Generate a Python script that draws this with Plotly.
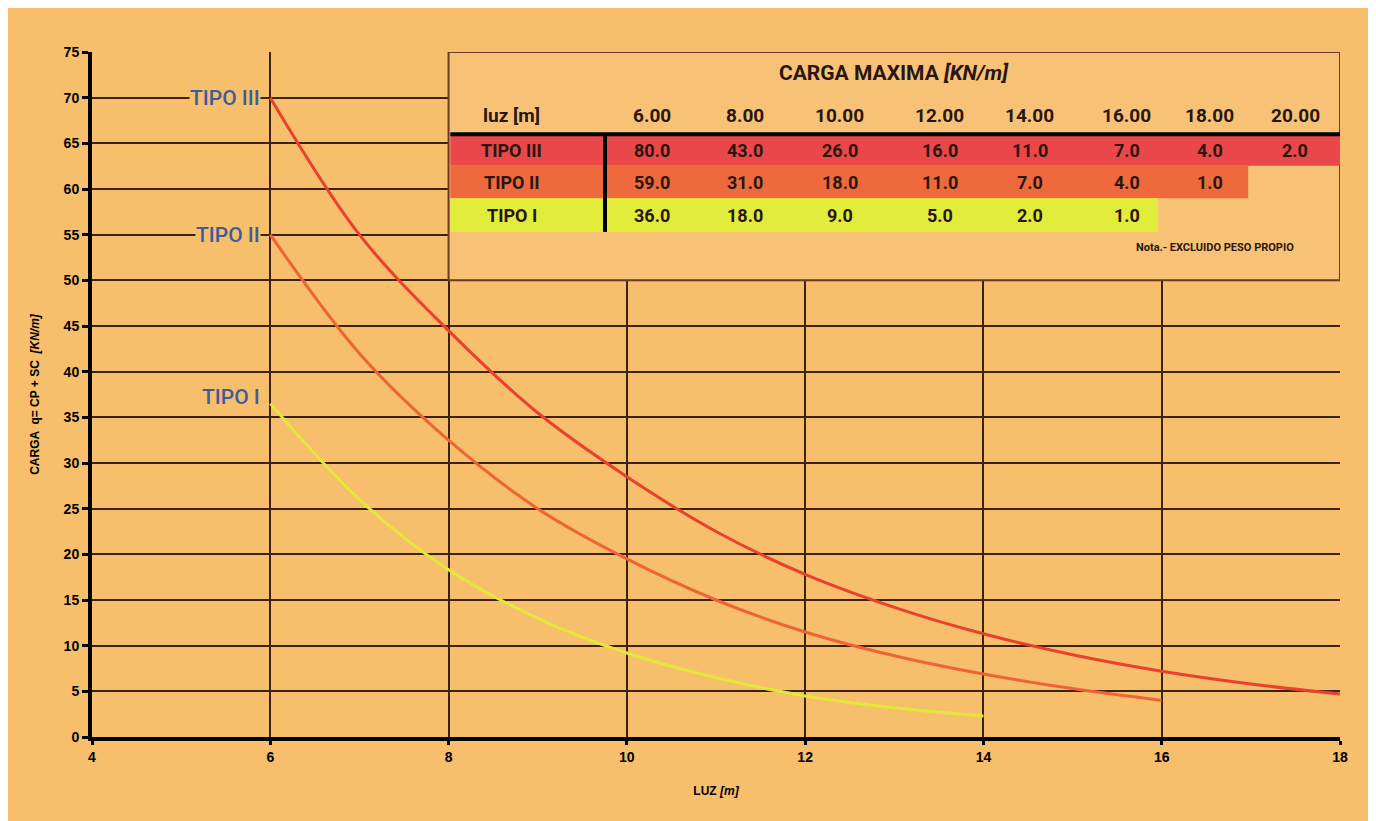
import plotly.graph_objects as go

# ---- curve data ----
luz_III = [6, 7, 8, 9, 10, 11, 12, 13, 14, 15, 16, 17, 18]
carga_III = [70, 55, 44.5, 35.5, 28.5, 22.5, 17.8, 14.2, 11.3, 9.0, 7.2, 5.8, 4.7]
luz_II = [6, 7, 8, 9, 10, 11, 12, 13, 14, 15, 16]
carga_II = [55, 42, 32.5, 25, 19.5, 15, 11.5, 8.9, 6.9, 5.3, 4.0]
luz_I = [6, 7, 8, 9, 10, 11, 12, 13, 14]
carga_I = [36.5, 26, 18.3, 13, 9.2, 6.5, 4.5, 3.2, 2.3]

# ---- table data ----
table_cols = ["6.00", "8.00", "10.00", "12.00", "14.00", "16.00", "18.00", "20.00"]
row_names = ["TIPO III", "TIPO II", "TIPO I"]
vals_III = ["80.0", "43.0", "26.0", "16.0", "11.0", "7.0", "4.0", "2.0"]
vals_II = ["59.0", "31.0", "18.0", "11.0", "7.0", "4.0", "1.0"]
vals_I = ["36.0", "18.0", "9.0", "5.0", "2.0", "1.0"]

# ---- style ----
BG = "#F7BE6C"
TABLE_BG = "#F8C276"
GRID = "#3a2214"
C_III = "#E8412C"
C_II = "#EE6436"
C_I = "#E4E83A"
ROW_III = "#E9474A"
ROW_II = "#EE6A3C"
ROW_I = "#E2EC3A"
BLUE = "#3D5C9C"
TXT = "#2a1610"
FONT_AX = "Liberation Sans"
FONT_T = "Roboto"

fig = go.Figure()

for xs, ys, col in [(luz_III, carga_III, C_III), (luz_II, carga_II, C_II), (luz_I, carga_I, C_I)]:
    fig.add_trace(go.Scatter(x=xs, y=ys, mode="lines",
                             line=dict(color=col, width=3, shape="spline", smoothing=1.0),
                             showlegend=False, hoverinfo="skip"))

shapes = []
# table background covering grid
shapes.append(dict(type="rect", xref="x", yref="y", x0=8, x1=18, y0=50, y1=75,
                   fillcolor=TABLE_BG, line=dict(color="#6b3a26", width=2), layer="between"))
# table rows
row_x1 = [18, 16.97, 15.96]
row_y = [(66.0, 62.55), (62.55, 59.0), (59.0, 55.3)]
row_col = [ROW_III, ROW_II, ROW_I]
for x1, (ya, yb), c in zip(row_x1, row_y, row_col):
    shapes.append(dict(type="rect", xref="x", yref="y", x0=8.02, x1=x1, y0=yb, y1=ya,
                       fillcolor=c, line=dict(width=0), layer="between"))
# header black line
shapes.append(dict(type="line", xref="x", yref="y", x0=8.02, x1=18, y0=66.0, y1=66.0,
                   line=dict(color="black", width=4), layer="between"))
# vertical black separator
shapes.append(dict(type="line", xref="x", yref="y", x0=9.755, x1=9.755, y0=66.0, y1=55.3,
                   line=dict(color="black", width=4), layer="between"))

fig.update_layout(shapes=shapes)

ann = []
# table title
ann.append(dict(x=13.0, y=72.7, xref="x", yref="y", showarrow=False,
                text="<b>CARGA MAXIMA <i>[KN/m]</i></b>", font=dict(family=FONT_T, size=21, color=TXT)))
col_x = [10.28, 11.33, 12.39, 13.51, 14.52, 15.61, 16.54, 17.50]
ann.append(dict(x=8.71, y=68.1, xref="x", yref="y", showarrow=False,
                text="<b>luz [m]</b>", font=dict(family=FONT_T, size=19, color=TXT)))
for cx, t in zip(col_x, table_cols):
    ann.append(dict(x=cx, y=68.1, xref="x", yref="y", showarrow=False,
                    text="<b>" + t + "</b>", font=dict(family=FONT_T, size=19, color=TXT)))
row_cy = [64.2, 60.7, 57.1]
for name, vals, cy in zip(row_names, [vals_III, vals_II, vals_I], row_cy):
    ann.append(dict(x=8.71, y=cy, xref="x", yref="y", showarrow=False,
                    text="<b>" + name + "</b>", font=dict(family=FONT_T, size=18, color=TXT)))
    for cx, v in zip(col_x, vals):
        ann.append(dict(x=cx, y=cy, xref="x", yref="y", showarrow=False,
                        text="<b>" + v + "</b>", font=dict(family=FONT_T, size=18, color=TXT)))
ann.append(dict(x=16.6, y=53.6, xref="x", yref="y", showarrow=False,
                text="<b>Nota.- EXCLUIDO PESO PROPIO</b>", font=dict(family=FONT_T, size=11, color=TXT)))

# curve labels
for name, yv in [("TIPO III", 70), ("TIPO II", 55), ("TIPO I", 37.2)]:
    ann.append(dict(x=6, y=yv, xref="x", yref="y", showarrow=False, xanchor="right",
                    xshift=-9, text=name, bgcolor=BG, borderpad=0,
                    font=dict(family=FONT_T, size=21, color=BLUE, weight=500)))

fig.update_layout(annotations=ann)

fig.update_layout(
    width=1376, height=821,
    margin=dict(l=84, r=44, t=44, b=92),
    paper_bgcolor=BG, plot_bgcolor=BG,
    font=dict(family=FONT_AX, color="black"),
    xaxis=dict(range=[4, 18], tickvals=[4, 6, 8, 10, 12, 14, 16, 18], showgrid=True,
               gridcolor=GRID, gridwidth=2, zeroline=False,
               showline=True, linecolor="black", linewidth=4,
               ticks="outside", ticklen=4, tickwidth=3, tickcolor="black",
               tickfont=dict(family=FONT_AX, size=14, color="black", weight="bold"),
               title=dict(text="<b>LUZ <i>[m]</i></b>", font=dict(family=FONT_AX, size=12), standoff=24)),
    yaxis=dict(range=[0, 75], tickvals=list(range(0, 80, 5)), showgrid=True,
               gridcolor=GRID, gridwidth=2, zeroline=False,
               showline=True, linecolor="black", linewidth=4,
               ticks="outside", ticklen=6, tickwidth=3, tickcolor="black",
               tickfont=dict(family=FONT_AX, size=14, color="black", weight="bold"),
               title=dict(text="<b>CARGA  q= CP + SC  <i>[KN/m]</i></b>", font=dict(family=FONT_AX, size=12), standoff=22)),
)

fig.write_html("out.html")
